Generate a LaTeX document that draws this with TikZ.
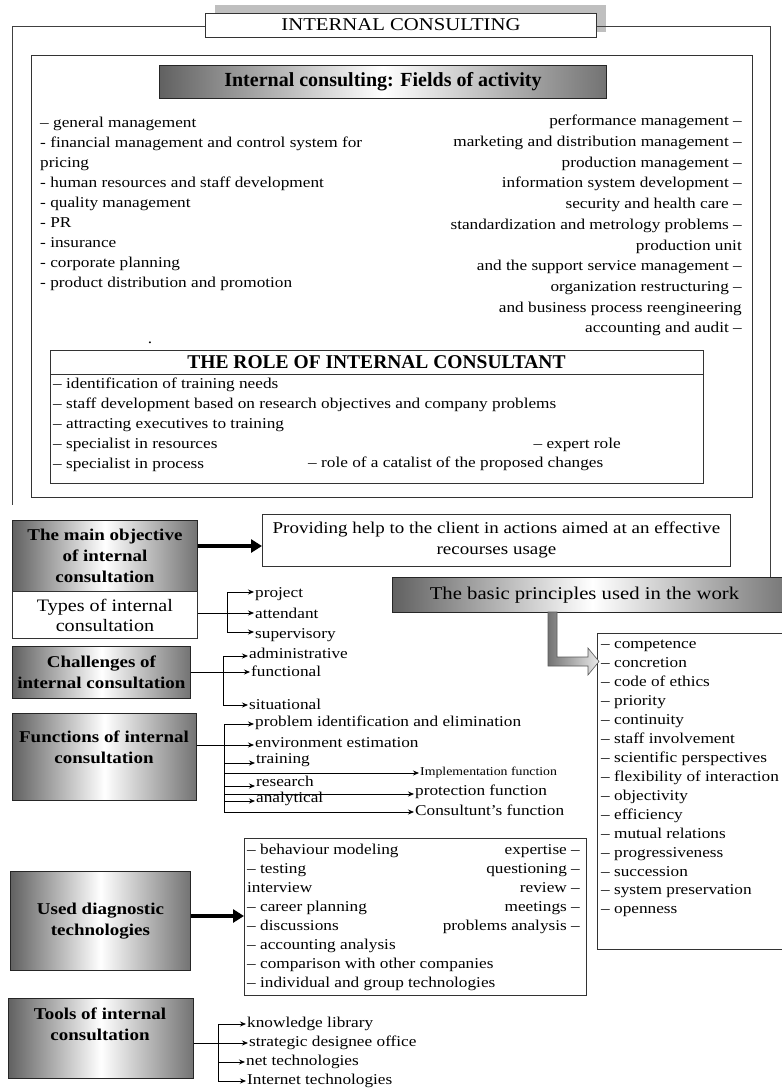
\documentclass[tikz,border=0pt]{standalone}
\usepackage{fontspec}
\setmainfont{Liberation Serif}[FakeStretch=1.15]
\newfontfamily\condfam{Liberation Serif}
\usetikzlibrary{arrows.meta}
\tikzset{
  frameline/.style={draw=black!75, line width=1pt},
  plainbox/.style={draw=black!80, line width=0.9pt, fill=white, inner sep=0pt},
  gradbox/.style={draw=black!85, line width=0.9pt, left color=black!62, right color=black!55, middle color=white, inner sep=0pt},
  itm/.style={font=\fontsize{15}{18}\selectfont, inner sep=0pt, text height=1.5ex, text depth=.25ex},
  bhead/.style={font=\bfseries\fontsize{16.5}{21}\selectfont, align=center, inner sep=0pt},
  thinarr/.style={line width=0.8pt, -{Stealth[length=6pt,width=5pt]}, shorten >=1pt},
  spine/.style={line width=0.8pt},
  bigarr/.style={line width=3.5pt, -{Triangle[length=11pt,width=13pt]}},
}
\begin{document}
\begin{tikzpicture}[x=1pt,y=-1pt]
\useasboundingbox (0,0) rectangle (782,1090);
\fill[white] (0,0) rectangle (782,1090);

% ---------- title ----------
\fill[black!25] (215,5) rectangle (606,32);
\node[plainbox, minimum width=391pt, minimum height=24pt, anchor=north west,
      font=\fontsize{18}{20}\selectfont] (title) at (205,12.5) {INTERNAL CONSULTING};
\coordinate (fTL) at (12,26);  \coordinate (fBL) at (12,505);
\coordinate (fTR) at (770,26); \coordinate (fBR) at (770,577);
\draw[frameline] (title.west |- fTL) -- (fTL) -- (fBL);
\draw[frameline] (title.east |- fTR) -- (fTR) -- (fBR);

% ---------- fields of activity ----------
\node[plainbox, minimum width=721pt, minimum height=442pt, anchor=north west] (fields) at (31,55) {};
\node[gradbox, minimum width=447pt, minimum height=33pt, anchor=north west,
      font=\condfam\bfseries\fontsize{20}{22}\selectfont] (fhead) at (159,65) {Internal consulting: Fields of activity};

\foreach \t [count=\i] in {{– general management},
  {-  financial management and control system for},
  {pricing},
  {- human resources and staff development},
  {- quality management},
  {- PR},
  {- insurance},
  {- corporate planning},
  {- product distribution  and promotion}}
  \node[itm, anchor=west] (fl\i) at (40,{125+(\i-1)*20}) {\t};

\foreach \t [count=\i] in {{performance management –},
  {marketing and distribution management –},
  {production management –},
  {information system development –},
  {security  and health care –},
  {standardization and metrology problems –},
  {production unit},
  {and the support service management –},
  {organization restructuring  –},
  {and business process reengineering},
  {accounting and audit –}}
  \node[itm, anchor=east] (fr\i) at (742,{123+(\i-1)*20.7}) {\t};

\node[itm] (dot) at (150,341) {.};

% ---------- role ----------
\node[plainbox, minimum width=653pt, minimum height=133pt, anchor=north west] (role) at (50,350) {};
\node[font=\condfam\bfseries\fontsize{19.5}{22}\selectfont, inner sep=0pt] (rolet) at (376.5,362) {THE ROLE OF INTERNAL CONSULTANT};
\coordinate (rsep) at (0,374);
\draw[line width=0.9pt, black!80] (role.west |- rsep) -- (role.east |- rsep);
\foreach \t [count=\i] in {{– identification of training needs},
  {– staff development based on research objectives and company problems},
  {– attracting executives to training},
  {– specialist in resources},
  {– specialist in process}}
  \node[itm, anchor=west] (rl\i) at (53,{386+(\i-1)*19.8}) {\t};
\node[itm, anchor=east] (rexp) at (621,445.5) {– expert role};
\node[itm, anchor=west] (rcat) at (308,465) {– role of a catalist of the proposed changes};

% ---------- main objective ----------
\node[gradbox, minimum width=185pt, minimum height=71pt, anchor=north west, bhead] (mo) at (12,520)
  {The main objective\\of internal\\consultation};
\node[plainbox, minimum width=185pt, minimum height=47pt, anchor=north west, align=center,
      font=\fontsize{17.5}{20}\selectfont] (ty) at (12,591) {Types of internal\\consultation};
\node[plainbox, minimum width=468pt, minimum height=52pt, anchor=north west, align=center,
      font=\fontsize{16.5}{21}\selectfont] (prov) at (262,514)
  {Providing help to the client in actions aimed at an effective\\recourses usage};
\coordinate (ap) at (0,546);
\draw[bigarr] (mo.east |- ap) -- (prov.west |- ap);

% types arrows
\coordinate (y1) at (227,592); \coordinate (y2) at (227,613); \coordinate (y3) at (227,632);
\node[itm, anchor=west] (ty1) at (255,595) {project};
\node[itm, anchor=west] (ty2) at (255,616) {attendant};
\node[itm, anchor=west] (ty3) at (255,636) {supervisory};
\draw[spine] (ty.east |- y2) -- (y2);
\draw[spine] (y1) -- (y3);
\draw[thinarr] (y1) -- (y1 -| ty1.west);
\draw[thinarr] (y2) -- (y2 -| ty2.west);
\draw[thinarr] (y3) -- (y3 -| ty3.west);

% ---------- principles ----------
\node[gradbox, minimum width=400pt, minimum height=35pt, anchor=north west,
      font=\fontsize{18}{22}\selectfont] (ph) at (392,577) {\hspace*{-8pt}The basic principles used in the work\hspace*{8pt}};
\node[plainbox, minimum width=200pt, minimum height=316pt, anchor=north west] (pl) at (597,633) {};
\foreach \t [count=\i] in {{– competence},{– concretion},{– code of ethics},{– priority},
  {– continuity},{– staff involvement},{– scientific perspectives},{– flexibility  of interaction},
  {– objectivity},{– efficiency},{– mutual relations},{– progressiveness},{– succession},
  {– system preservation},{– openness}}
  \node[itm, anchor=west] (pr\i) at (601,{646+(\i-1)*18.93}) {\t};
% block arrow from header to list
\shade[left color=black!55, right color=black!8, draw=black!65, line width=0.6pt]
  (548,612) -- (557,612) -- (557,657) -- (588,657) -- (588,648) -- (599,661.5)
  -- (588,675) -- (588,666) -- (548,666) -- cycle;

% ---------- challenges ----------
\node[gradbox, minimum width=178pt, minimum height=52pt, anchor=north west, bhead] (ch) at (12,646)
  {Challenges of\\internal consultation};
\coordinate (c1) at (223,656); \coordinate (c2) at (223,672); \coordinate (c3) at (223,705);
\node[itm, anchor=west] (ch1) at (249,656) {administrative};
\node[itm, anchor=west] (ch2) at (251,674) {functional};
\node[itm, anchor=west] (ch3) at (249,707) {situational};
\draw[spine] (ch.east |- c2) -- (c2);
\draw[spine] (c1) -- (c3);
\draw[thinarr] (c1) -- (c1 -| ch1.west);
\draw[thinarr] (c2) -- (c2 -| ch2.west);
\draw[thinarr] (c3) -- (c3 -| ch3.west);

% ---------- functions ----------
\node[gradbox, minimum width=184pt, minimum height=87pt, anchor=north west] (fn) at (12,713) {};
\node[bhead] (fnt) at (104,747) {Functions of internal\\consultation};
\coordinate (s1) at (224,724); \coordinate (s2) at (224,745); \coordinate (s3) at (224,763);
\coordinate (s4) at (224,773); \coordinate (s5) at (224,786); \coordinate (s6) at (224,794);
\coordinate (s7) at (224,801); \coordinate (s8) at (224,812);
\node[itm, anchor=west] (f1) at (255,724) {problem identification and elimination};
\node[itm, anchor=west] (f2) at (255,745) {environment estimation};
\node[itm, anchor=west] (f3) at (256,761) {training};
\node[itm, anchor=west, font=\fontsize{12}{14}\selectfont] (f4) at (420,773) {Implementation function};
\node[itm, anchor=west] (f5) at (256,784) {research};
\node[itm, anchor=west] (f6) at (415,793) {protection function};
\node[itm, anchor=west] (f7) at (256,800) {analytical};
\node[itm, anchor=west] (f8) at (415,813) {Consultunt’s function};
\draw[spine] (fn.east |- s2) -- (s2);
\draw[spine] (s1) -- (s8);
\draw[thinarr] (s1) -- (s1 -| f1.west);
\draw[thinarr] (s2) -- (s2 -| f2.west);
\draw[thinarr] (s3) -- (s3 -| f3.west);
\draw[thinarr] (s4) -- (s4 -| f4.west);
\draw[thinarr] (s5) -- (s5 -| f5.west);
\draw[thinarr] (s6) -- (s6 -| f6.west);
\draw[thinarr] (s7) -- (s7 -| f7.west);
\draw[thinarr] (s8) -- (s8 -| f8.west);

% ---------- diagnostics ----------
\node[gradbox, minimum width=180pt, minimum height=99pt, anchor=north west, bhead] (dg) at (10,871)
  {Used diagnostic\\technologies};
\node[plainbox, minimum width=342pt, minimum height=157pt, anchor=north west] (dl) at (244,838) {};
\foreach \t [count=\i] in {{– behaviour modeling},{– testing},{interview},{– career planning},
  {– discussions},{– accounting analysis},{– comparison with other companies},
  {– individual and group technologies}}
  \node[itm, anchor=west] (dl\i) at (247,{852+(\i-1)*19}) {\t};
\foreach \t [count=\i] in {{expertise  –},{questioning –},{review –},{meetings –},{problems  analysis –}}
  \node[itm, anchor=east] (dr\i) at (580,{852+(\i-1)*19}) {\t};
\coordinate (da) at (0,916);
\draw[bigarr] (dg.east |- da) -- (dl.west |- da);

% ---------- tools ----------
\node[gradbox, minimum width=185pt, minimum height=80pt, anchor=north west] (tl) at (8,998) {};
\node[bhead] (tlt) at (100,1024) {Tools of internal\\consultation};
\coordinate (t1) at (218,1024); \coordinate (t2) at (218,1043);
\coordinate (t3) at (218,1062); \coordinate (t4) at (218,1081);
\node[itm, anchor=west] (k1) at (247,1025) {knowledge library};
\node[itm, anchor=west] (k2) at (249,1044) {strategic designee office};
\node[itm, anchor=west] (k3) at (246,1063) {net technologies};
\node[itm, anchor=west] (k4) at (247,1082) {Internet technologies};
\draw[spine] (tl.east |- t2) -- (t2);
\draw[spine] (t1) -- (t4);
\draw[thinarr] (t1) -- (t1 -| k1.west);
\draw[thinarr] (t2) -- (t2 -| k2.west);
\draw[thinarr] (t3) -- (t3 -| k3.west);
\draw[thinarr] (t4) -- (t4 -| k4.west);
\end{tikzpicture}
\end{document}
